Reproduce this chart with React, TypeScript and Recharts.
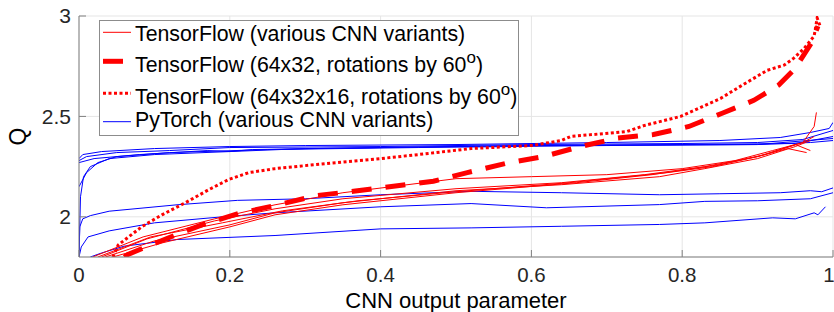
import { LineChart, Line, XAxis, YAxis, CartesianGrid } from "recharts";

const FONT = "'Liberation Sans', Arial, sans-serif";

const xTicks = [0, 0.2, 0.4, 0.6, 0.8, 1];
const yTicks = [2, 2.5, 3];

// PyTorch (various CNN variants): [CNN output parameter, Q]
const pyTorch1 = [[0, 2.29], [0.005, 2.31], [0.03, 2.325], [0.1, 2.34], [0.2, 2.35], [0.3, 2.355], [0.5, 2.36], [0.7, 2.37], [0.85, 2.38], [0.93, 2.395], [0.97, 2.42], [0.995, 2.44], [1, 2.47]];
const pyTorch2 = [[0, 2.28], [0.01, 2.3], [0.05, 2.32], [0.12, 2.33], [0.2, 2.345], [0.4, 2.35], [0.6, 2.36], [0.8, 2.365], [0.9, 2.37], [0.96, 2.385], [1, 2.43]];
const pyTorch3 = [[0, 2.27], [0.02, 2.29], [0.08, 2.31], [0.17, 2.33], [0.2, 2.325], [0.23, 2.335], [0.4, 2.345], [0.6, 2.355], [0.8, 2.36], [0.95, 2.365], [1, 2.4]];
const pyTorch4 = [[0, 2.15], [0.01, 2.22], [0.025, 2.27], [0.05, 2.3], [0.12, 2.32], [0.25, 2.335], [0.45, 2.345], [0.7, 2.355], [0.9, 2.36], [0.97, 2.37], [1, 2.38]];
const pyTorch5 = [[0, 1.8], [0.002, 2.1], [0.006, 2.2], [0.015, 2.25], [0.04, 2.29], [0.1, 2.31], [0.3, 2.34], [0.6, 2.355], [0.9, 2.36], [1, 2.39]];
const pyTorch6 = [[0, 1.8], [0.001, 1.95], [0.005, 1.99], [0.015, 2.006], [0.04, 2.028], [0.13, 2.06], [0.21, 2.082], [0.3, 2.09], [0.4, 2.11], [0.52, 2.127], [0.64, 2.12], [0.77, 2.11], [0.85, 2.115], [0.93, 2.12], [0.97, 2.13], [0.985, 2.125], [1, 2.144]];
const pyTorch7 = [[0, 1.8], [0.003, 1.85], [0.012, 1.9], [0.04, 1.93], [0.1, 1.97], [0.19, 2.0], [0.26, 2.02], [0.4, 2.05], [0.52, 2.066], [0.62, 2.045], [0.77, 2.061], [0.83, 2.077], [0.9, 2.08], [0.97, 2.09], [1, 2.12]];
const pyTorch8 = [[0.015, 1.8], [0.03, 1.82], [0.06, 1.854], [0.13, 1.887], [0.26, 1.907], [0.4, 1.94], [0.52, 1.945], [0.64, 1.953], [0.77, 1.962], [0.83, 1.97], [0.92, 1.995], [0.95, 1.99], [0.975, 2.02], [0.98, 2.01], [0.99, 2.05]];

// TensorFlow (various CNN variants)
const tf1 = [[0.018, 1.8], [0.085, 1.9], [0.18, 1.99], [0.26, 2.06], [0.35, 2.12], [0.5, 2.19], [0.6, 2.2], [0.7, 2.21], [0.8, 2.24], [0.87, 2.28], [0.92, 2.33], [0.96, 2.37], [0.975, 2.45], [0.978, 2.52]];
const tf2 = [[0.03, 1.8], [0.09, 1.89], [0.18, 1.98], [0.26, 2.04], [0.35, 2.09], [0.5, 2.14], [0.64, 2.17], [0.75, 2.21], [0.83, 2.25], [0.9, 2.3], [0.95, 2.36], [0.97, 2.33]];
const tf3 = [[0.035, 1.8], [0.1, 1.88], [0.2, 1.96], [0.26, 2.02], [0.35, 2.07], [0.5, 2.13], [0.64, 2.16], [0.77, 2.2], [0.83, 2.24], [0.9, 2.29], [0.95, 2.35], [0.97, 2.38]];
const tf4 = [[0.025, 1.8], [0.095, 1.9], [0.19, 1.97], [0.27, 2.03], [0.37, 2.08], [0.5, 2.125], [0.65, 2.17], [0.78, 2.22], [0.84, 2.25], [0.9, 2.3], [0.94, 2.34], [0.965, 2.32]];
const tf5 = [[0.045, 1.8], [0.11, 1.87], [0.2, 1.95], [0.26, 2.01], [0.35, 2.06], [0.5, 2.12], [0.66, 2.17], [0.76, 2.21], [0.85, 2.26], [0.91, 2.31], [0.96, 2.37], [0.975, 2.4]];

// TensorFlow (64x32, rotations by 60°)
const tfRot64x32 = [[0.06, 1.8], [0.065, 1.813], [0.119, 1.896], [0.163, 1.96], [0.211, 2.016], [0.256, 2.053], [0.315, 2.106], [0.364, 2.127], [0.417, 2.152], [0.47, 2.177], [0.515, 2.22], [0.568, 2.268], [0.616, 2.3], [0.665, 2.35], [0.714, 2.392], [0.762, 2.41], [0.809, 2.45], [0.853, 2.516], [0.895, 2.58], [0.928, 2.656], [0.95, 2.74], [0.972, 2.87], [0.98, 2.95]];

// TensorFlow (64x32x16, rotations by 60°)
const tfRot64x32x16 = [[0.045, 1.8], [0.052, 1.86], [0.083, 1.95], [0.11, 2.01], [0.141, 2.07], [0.172, 2.135], [0.198, 2.185], [0.225, 2.22], [0.26, 2.24], [0.3, 2.255], [0.4, 2.29], [0.45, 2.31], [0.52, 2.34], [0.6, 2.355], [0.64, 2.38], [0.652, 2.4], [0.727, 2.425], [0.75, 2.455], [0.798, 2.5], [0.851, 2.59], [0.886, 2.67], [0.913, 2.73], [0.935, 2.755], [0.948, 2.79], [0.962, 2.84], [0.975, 2.9], [0.979, 2.99], [0.983, 2.95]];

const pyTorchRuns = [pyTorch1, pyTorch2, pyTorch3, pyTorch4, pyTorch5, pyTorch6, pyTorch7, pyTorch8];
const tfRuns = [tf1, tf2, tf3, tf4, tf5];

const legendLabels = [
  "TensorFlow (various CNN variants)",
  "TensorFlow (64x32, rotations by 60",
  "TensorFlow (64x32x16, rotations by 60",
  "PyTorch (various CNN variants)",
];

const toPoints = (pairs: number[][]) => pairs.map(([x, q]) => ({ x, q }));

function LegendBox() {
  const lineY = [13.3, 42.3, 74.3, 102.7];
  const baseY = [21.7, 53.3, 85, 108.3];
  const sample = [
    { stroke: "#ff0000", width: 1, dash: undefined },
    { stroke: "#ff0000", width: 5, dash: "20 14" },
    { stroke: "#ff0000", width: 3, dash: "3 2.5" },
    { stroke: "#0000ff", width: 1, dash: undefined },
  ];
  return (
    <svg
      width={422}
      height={118}
      style={{ position: "absolute", left: 98, top: 19 }}
      fontFamily={FONT}
    >
      <rect x={1.5} y={1.5} width={419} height={115} fill="#fff" stroke="#8c8c8c" />
      {legendLabels.map((label, i) => (
        <g key={label}>
          <line
            x1={5}
            x2={33}
            y1={lineY[i]}
            y2={lineY[i]}
            stroke={sample[i].stroke}
            strokeWidth={sample[i].width}
            strokeDasharray={sample[i].dash}
          />
          <text x={37} y={baseY[i]} fontSize={21.3} fill="#000">
            {label}
            {(i === 1 || i === 2) && (
              <>
                <tspan fontSize={17} dy={-9}>o</tspan>
                <tspan dy={9}>)</tspan>
              </>
            )}
          </text>
        </g>
      ))}
    </svg>
  );
}

export default function App() {
  return (
    <div style={{ position: "absolute", left: 0, top: 0, width: 834, height: 312, background: "#fff" }}>
      <LineChart width={834} height={312} margin={{ top: 16, right: 1, bottom: 0, left: 0 }}>
        <CartesianGrid stroke="#e5e5e5" />
        <XAxis
          type="number"
          dataKey="x"
          domain={[0, 1]}
          ticks={xTicks}
          allowDataOverflow
          height={55}
          stroke="#808080"
          tickSize={-7}
          tickMargin={17}
          tick={{ fill: "#262626", fontSize: 20.5, fontFamily: FONT }}
          label={{ value: "CNN output parameter", position: "insideBottom", offset: 4, fill: "#000", fontSize: 22, fontFamily: FONT }}
        />
        <YAxis
          type="number"
          domain={[1.8, 3]}
          ticks={yTicks}
          allowDataOverflow
          width={79}
          stroke="#808080"
          tickSize={-7}
          tickMargin={15}
          tick={{ fill: "#262626", fontSize: 21, fontFamily: FONT }}
          label={{ value: "Q", angle: -90, position: "insideLeft", offset: 18, fill: "#000", fontSize: 23, fontFamily: FONT, style: { textAnchor: "middle" } }}
        />
        {pyTorchRuns.map((run, i) => (
          <Line key={`py${i}`} data={toPoints(run)} dataKey="q" stroke="#0000ff" strokeWidth={1} dot={false} activeDot={false} isAnimationActive={false} />
        ))}
        {tfRuns.map((run, i) => (
          <Line key={`tf${i}`} data={toPoints(run)} dataKey="q" stroke="#ff0000" strokeWidth={1} dot={false} activeDot={false} isAnimationActive={false} />
        ))}
        <Line data={toPoints(tfRot64x32)} dataKey="q" stroke="#ff0000" strokeWidth={5} strokeDasharray="20 14" dot={false} activeDot={false} isAnimationActive={false} />
        <Line data={toPoints(tfRot64x32x16)} dataKey="q" stroke="#ff0000" strokeWidth={3} strokeDasharray="3 2.5" dot={false} activeDot={false} isAnimationActive={false} />
      </LineChart>
      <LegendBox />
    </div>
  );
}
